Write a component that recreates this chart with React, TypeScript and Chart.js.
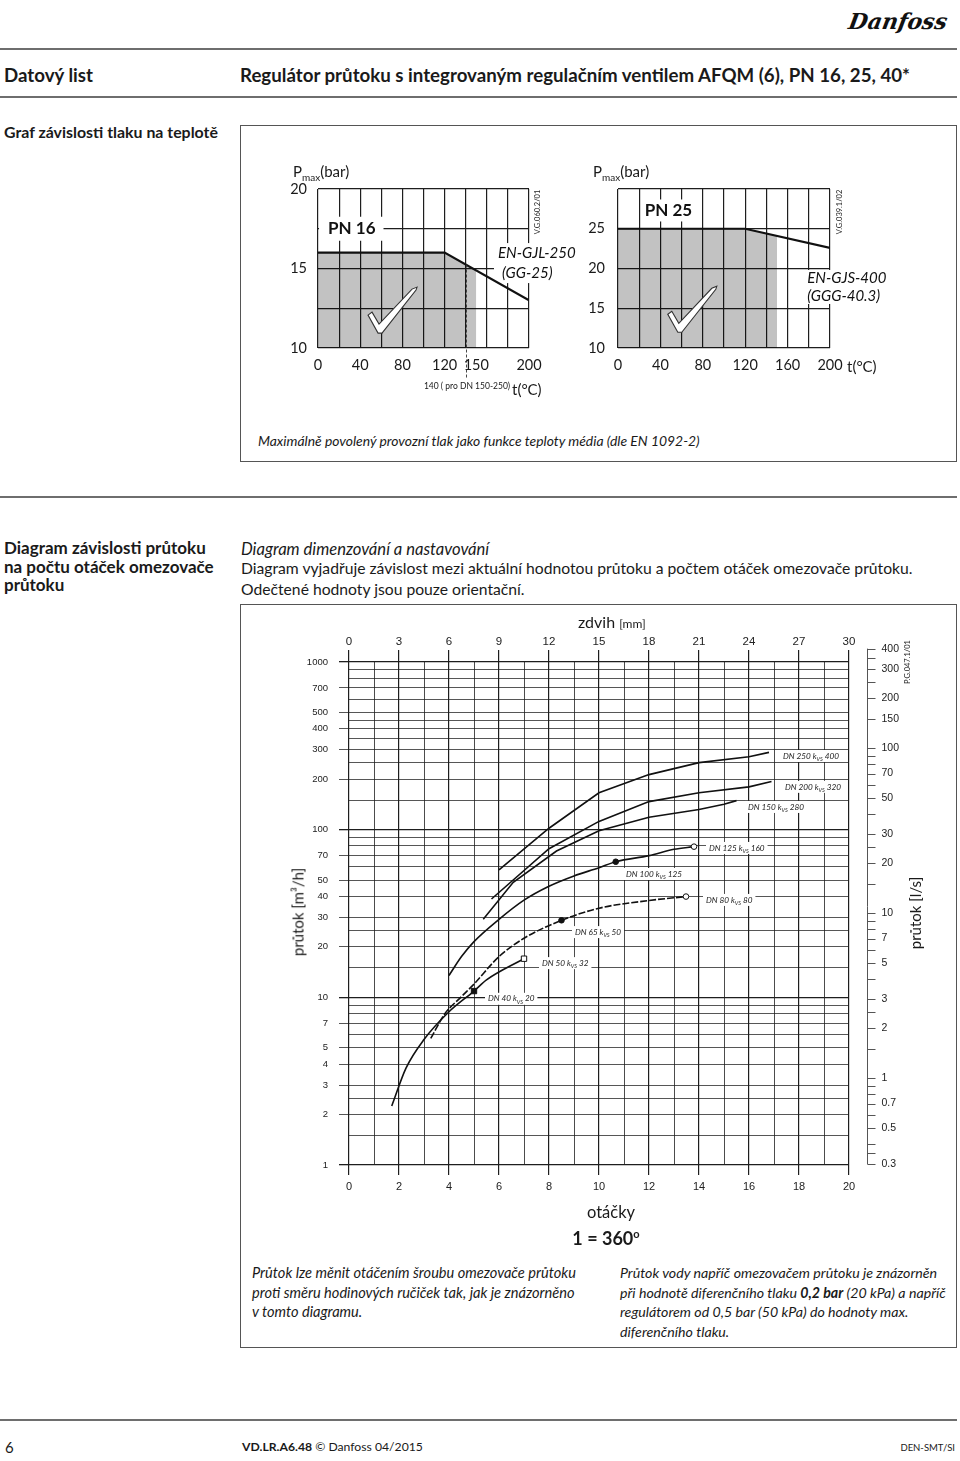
import React, { useEffect, useRef } from 'react';
import { Chart, registerables } from 'chart.js';
Chart.register(...registerables);

if (typeof document !== 'undefined') document.body.style.margin = '0';

const FONT = "Lato, 'Open Sans', sans-serif";
const NUM_FONT = "'Liberation Sans', Arial, sans-serif";

// ---------- PN 16 chart ----------
const pn16Temp = [0, 120, 200];
const pn16Pressure = [16, 16, 13];
const pn16AreaTemp = [0, 120, 150];
const pn16AreaPressure = [16, 16, 14.9];
const pn16TempGrid = [0, 20, 40, 60, 80, 100, 120, 140, 150, 160, 180, 200];
const pn16TempNoLine = [150];
const pn16TempLabels = [0, 40, 80, 120, 150, 200];
const pn16PressGrid = [10, 12.5, 15, 17.5, 20];
const pn16PressLabels = [10, 15, 20];
const pn16LimitTemp = 140;
const pn16LimitPressure = 15.25;

// ---------- PN 25 chart ----------
const pn25Temp = [0, 120, 200];
const pn25Pressure = [25, 25, 22.6];
const pn25AreaTemp = [0, 120, 150];
const pn25AreaPressure = [25, 25, 24.1];
const pn25TempGrid = [0, 20, 40, 60, 80, 100, 120, 140, 160, 180, 200];
const pn25TempLabels = [0, 40, 80, 120, 160, 200];
const pn25PressGrid = [10, 15, 20, 25, 30];
const pn25PressLabels = [10, 15, 20, 25];

// ---------- Main flow chart ----------
const turnsGrid = [0, 1, 2, 3, 4, 5, 6, 7, 8, 9, 10, 11, 12, 13, 14, 15, 16, 17, 18, 19, 20];
const turnsLabels = [0, 2, 4, 6, 8, 10, 12, 14, 16, 18, 20];
const liftTicks = [0, 3, 6, 9, 12, 15, 18, 21, 24, 27, 30];
const flowGrid = [1, 1.5, 2, 2.5, 3, 4, 5, 6, 7, 8, 9, 10, 15, 20, 25, 30, 40, 50, 60, 70, 80, 90,
  100, 150, 200, 250, 300, 350, 400, 450, 500, 600, 700, 800, 900, 1000];
const flowLabels = [1000, 700, 500, 400, 300, 200, 100, 70, 50, 40, 30, 20, 10, 7, 5, 4, 3, 2, 1];
const flowDecades = [1, 10, 100, 1000];
const flowLsTicks = [0.3, 0.35, 0.4, 0.5, 0.6, 0.7, 0.8, 0.9, 1, 1.5, 2, 2.5, 3, 4, 5, 6, 7, 8, 9, 10,
  15, 20, 25, 30, 40, 50, 60, 70, 80, 90, 100, 150, 200, 250, 300, 350, 400];
const flowLsLabels = [400, 300, 200, 150, 100, 70, 50, 30, 20, 10, 7, 5, 3, 2, 1, 0.7, 0.5, 0.3];
const flowLsMin = 0.297;
const flowLsMax = 332;

const dn250Turns = [6, 8, 10, 12, 14, 16, 16.8];
const dn250Flow = [57.5, 102, 166, 213, 251, 272, 289];
const dn200Turns = [5.7, 8, 10, 12, 14, 16, 16.9];
const dn200Flow = [38.6, 77, 112, 147, 166, 180, 194];
const dn150Turns = [5.37, 6.57, 8.3, 10, 12, 14, 15, 15.5];
const dn150Flow = [29.2, 48.5, 74.6, 98.6, 118.6, 132, 141.6, 149];
const dn125Turns = [4, 4.5, 5, 6, 7, 8, 9, 10, 10.67, 12, 13, 13.8];
const dn125Flow = [13.5, 17.5, 21.5, 29.2, 38, 46, 53, 59.3, 64.4, 70, 76.4, 79.2];
const dn80Turns = [3.27, 3.84, 4.5, 5, 6, 7, 8.5, 10, 12, 13.48];
const dn80Flow = [5.69, 8.0, 10.1, 12, 17.5, 22.5, 28.8, 34, 37.8, 39.9];
const dn50Turns = [1.71, 2.28, 3, 4, 5, 5.5, 7];
const dn50Flow = [2.25, 3.78, 5.6, 8.2, 10.9, 12.7, 17];

const dn100End = [10.67, 64.4];
const dn125End = [13.8, 79.2];
const dn65End = [8.5, 28.8];
const dn80End = [13.48, 39.9];
const dn40End = [5, 10.9];
const dn50End = [7, 17];

const curveLabels = [
  { dn: 'DN 250', kvs: '400', turns: 17.36, flow: 275 },
  { dn: 'DN 200', kvs: '320', turns: 17.44, flow: 180 },
  { dn: 'DN 150', kvs: '280', turns: 15.96, flow: 136.6 },
  { dn: 'DN 125', kvs: '160', turns: 14.4, flow: 77.8 },
  { dn: 'DN 100', kvs: '125', turns: 11.08, flow: 54.4 },
  { dn: 'DN 80', kvs: '80', turns: 14.28, flow: 38.1 },
  { dn: 'DN 65', kvs: '50', turns: 9.04, flow: 24.5 },
  { dn: 'DN 50', kvs: '32', turns: 7.72, flow: 16.0 },
  { dn: 'DN 40', kvs: '20', turns: 5.56, flow: 9.8 },
];

const pts = (xs: number[], ys: number[]) => xs.map((x, i) => ({ x, y: ys[i] }));
const GRID = '#1e1e1e';
const NONE = 'rgba(0,0,0,0)';

function drawCheck(ctx: CanvasRenderingContext2D, bx: number, by: number) {
  const p = [[-12, -17], [-8, -20], [-1, -8], [32, -43], [37, -45], [36, -42], [2, 1], [-2, 1]];
  ctx.save();
  ctx.beginPath();
  p.forEach(([x, y], i) => (i ? ctx.lineTo(bx + x, by + y) : ctx.moveTo(bx + x, by + y)));
  ctx.closePath();
  ctx.fillStyle = '#fff';
  ctx.fill();
  ctx.strokeStyle = '#333';
  ctx.lineWidth = 1.1;
  ctx.stroke();
  ctx.restore();
}

function pnConfig(o: any) {
  return {
    type: 'line',
    data: {
      datasets: [
        { data: pts(o.temp, o.press), borderColor: '#111', borderWidth: 2.2, pointRadius: 0, fill: false, tension: 0 },
        { data: pts(o.areaTemp, o.areaPress), borderWidth: 0, pointRadius: 0, fill: 'start', backgroundColor: 'rgba(0,0,0,0.24)', tension: 0 },
      ],
    },
    options: {
      responsive: false, animation: false, devicePixelRatio: 1,
      layout: { padding: { left: 0, right: o.padRight, top: 29, bottom: 0 } },
      plugins: { legend: { display: false }, tooltip: { enabled: false } },
      scales: {
        x: {
          type: 'linear', min: 0, max: 200,
          afterBuildTicks: (s: any) => { s.ticks = o.tempGrid.map((v: number) => ({ value: v })); },
          afterFit: (s: any) => { s.height = o.xHeight; },
          border: { display: false },
          grid: { drawTicks: false, lineWidth: 1.2, color: (c: any) => (o.tempNoLine.includes(c.tick?.value) ? NONE : GRID) },
          ticks: { autoSkip: false, maxRotation: 0, padding: 9, color: '#1a1a1a', font: { family: FONT, size: 14.5 },
            callback: (v: number) => (o.tempLabels.includes(v) ? String(v) : '') },
        },
        y: {
          type: 'linear', min: o.min, max: o.max,
          afterBuildTicks: (s: any) => { s.ticks = o.pressGrid.map((v: number) => ({ value: v })); },
          afterFit: (s: any) => { s.width = o.yWidth; },
          border: { display: false },
          grid: { drawTicks: false, lineWidth: 1.2, color: GRID },
          ticks: { autoSkip: false, padding: o.yPad, color: '#1a1a1a', font: { family: FONT, size: 14.5 },
            callback: (v: number) => (o.pressLabels.includes(v) ? String(v) : '') },
        },
      },
    },
    plugins: [
      {
        id: 'boxLabels',
        beforeDatasetsDraw(chart: any) {
          const { ctx } = chart; const xs = chart.scales.x; const ys = chart.scales.y;
          o.labels.forEach((l: any) => {
            ctx.save();
            ctx.font = l.font;
            const px = xs.getPixelForValue(l.t); const py = ys.getPixelForValue(l.p);
            const w = Math.max(...l.lines.map((s: string, i: number) => ctx.measureText(s).width + (l.indent?.[i] || 0)));
            ctx.fillStyle = '#fff';
            ctx.fillRect(px - l.padL, py - l.lh / 2 - l.padY, w + l.padL + l.padR, l.lh * l.lines.length + 2 * l.padY);
            ctx.fillStyle = '#111'; ctx.textBaseline = 'middle'; ctx.textAlign = 'left';
            l.lines.forEach((s: string, i: number) => ctx.fillText(s, px + (l.indent?.[i] || 0), py + i * l.lh));
            ctx.restore();
          });
        },
        afterDatasetsDraw(chart: any) {
          const { ctx, chartArea } = chart; const xs = chart.scales.x; const ys = chart.scales.y;
          drawCheck(ctx, xs.getPixelForValue(o.check[0]), ys.getPixelForValue(o.check[1]));
          if (o.limit) {
            const lx = Math.round(xs.getPixelForValue(o.limit[0])) + 0.5;
            ctx.save();
            ctx.strokeStyle = '#333'; ctx.lineWidth = 0.9; ctx.setLineDash([3, 2]);
            ctx.beginPath(); ctx.moveTo(lx, ys.getPixelForValue(o.limit[1])); ctx.lineTo(lx, chartArea.bottom + 30); ctx.stroke();
            ctx.restore();
          }
        },
      },
    ],
  };
}

const pn16Config = () => pnConfig({
  temp: pn16Temp, press: pn16Pressure, areaTemp: pn16AreaTemp, areaPress: pn16AreaPressure,
  tempGrid: pn16TempGrid, tempNoLine: pn16TempNoLine, tempLabels: pn16TempLabels,
  pressGrid: pn16PressGrid, pressLabels: pn16PressLabels, min: 10, max: 20,
  yWidth: 58, yPad: 11, padRight: 61, xHeight: 47,
  check: [58.8, 11.0], limit: [pn16LimitTemp, pn16LimitPressure],
  labels: [
    { lines: ['PN 16'], t: 9.5, p: 17.5, font: `bold 17px ${FONT}`, lh: 18, padL: 9, padR: 8, padY: 3 },
    { lines: ['EN-GJL-250', '(GG-25)'], indent: [0, 4], t: 170.6, p: 15.97, font: `italic 15px ${FONT}`, lh: 20, padL: 4, padR: 4, padY: 0 },
  ],
});

const pn25Config = () => pnConfig({
  temp: pn25Temp, press: pn25Pressure, areaTemp: pn25AreaTemp, areaPress: pn25AreaPressure,
  tempGrid: pn25TempGrid, tempNoLine: [], tempLabels: pn25TempLabels,
  pressGrid: pn25PressGrid, pressLabels: pn25PressLabels, min: 10, max: 30,
  yWidth: 48, yPad: 13, padRight: 70, xHeight: 47,
  check: [58.3, 12.1], limit: null,
  labels: [
    { lines: ['PN 25'], t: 25.2, p: 27.3, font: `bold 17px ${FONT}`, lh: 18, padL: 3, padR: 3, padY: 2 },
    { lines: ['EN-GJS-400', '(GGG-40.3)'], t: 178.5, p: 18.84, font: `italic 15px ${FONT}`, lh: 18.5, padL: 3, padR: 3, padY: -1.5 },
  ],
});

const curveLabelPlugin = {
  id: 'curveLabels',
  beforeDatasetsDraw(chart: any) {
    const { ctx } = chart; const xs = chart.scales.x; const ys = chart.scales.y;
    ctx.save();
    const big = `italic 8.2px ${FONT}`; const small = `italic 5.5px ${FONT}`;
    curveLabels.forEach((l) => {
      const px = xs.getPixelForValue(l.turns); const py = ys.getPixelForValue(l.flow);
      const a = `${l.dn} k`; const c = ` ${l.kvs}`;
      ctx.font = big; const wa = ctx.measureText(a).width; const wc = ctx.measureText(c).width;
      ctx.font = small; const wb = ctx.measureText('VS').width;
      ctx.fillStyle = '#fff';
      ctx.fillRect(px - 3, py - 6, wa + wb + wc + 6, 12);
      ctx.fillStyle = '#222'; ctx.textBaseline = 'middle'; ctx.textAlign = 'left';
      ctx.font = big; ctx.fillText(a, px, py);
      ctx.font = small; ctx.fillText('VS', px + wa, py + 3);
      ctx.font = big; ctx.fillText(c, px + wa + wb, py);
    });
    ctx.restore();
  },
};

const rightAxisPlugin = {
  id: 'rightAxis',
  afterDraw(chart: any) {
    const { ctx, chartArea } = chart; const s = chart.scales.y2;
    const x0 = Math.round(chartArea.right + 18) + 0.5;
    ctx.save();
    ctx.strokeStyle = '#555'; ctx.lineWidth = 1;
    const top = s.getPixelForValue(Math.max(...flowLsTicks));
    const bot = s.getPixelForValue(Math.min(...flowLsTicks));
    ctx.beginPath(); ctx.moveTo(x0, top); ctx.lineTo(x0, bot); ctx.stroke();
    flowLsTicks.forEach((v) => {
      const py = Math.round(s.getPixelForValue(v)) + 0.5;
      ctx.beginPath(); ctx.moveTo(x0, py); ctx.lineTo(x0 + 8, py); ctx.stroke();
    });
    ctx.fillStyle = '#222'; ctx.font = `10.5px ${NUM_FONT}`; ctx.textBaseline = 'middle'; ctx.textAlign = 'left';
    flowLsLabels.forEach((v) => ctx.fillText(String(v), x0 + 14, s.getPixelForValue(v)));
    ctx.restore();
  },
};

function mainConfig() {
  const line = (t: number[], f: number[], extra: any = {}) => ({
    data: pts(t, f), borderColor: '#111', borderWidth: 1.6, pointRadius: 0, fill: false, tension: 0, ...extra,
  });
  const marker = (p: number[], style: string, filled: boolean, r: number) => ({
    data: [{ x: p[0], y: p[1] }], showLine: false, pointStyle: style, pointRadius: r,
    pointBackgroundColor: filled ? '#111' : '#fff', pointBorderColor: '#111', pointBorderWidth: 1,
  });
  return {
    type: 'line',
    data: {
      datasets: [
        marker(dn100End, 'circle', true, 2.8),
        marker(dn125End, 'circle', false, 2.8),
        marker(dn65End, 'circle', true, 2.8),
        marker(dn80End, 'circle', false, 2.8),
        marker(dn40End, 'rect', true, 3.8),
        marker(dn50End, 'rect', false, 3.8),
        line(dn250Turns, dn250Flow),
        line(dn200Turns, dn200Flow),
        line(dn150Turns, dn150Flow),
        line(dn125Turns, dn125Flow, { cubicInterpolationMode: 'monotone' }),
        line(dn80Turns, dn80Flow, { cubicInterpolationMode: 'monotone', borderDash: [7, 2] }),
        line(dn50Turns, dn50Flow, { cubicInterpolationMode: 'monotone' }),
      ],
    },
    options: {
      responsive: false, animation: false, devicePixelRatio: 1,
      layout: { padding: { left: 0, right: 108, top: 0, bottom: 0 } },
      plugins: { legend: { display: false }, tooltip: { enabled: false } },
      scales: {
        x: {
          type: 'linear', position: 'bottom', min: 0, max: 20,
          afterBuildTicks: (s: any) => { s.ticks = turnsGrid.map((v) => ({ value: v })); },
          afterFit: (s: any) => { s.height = 59; },
          border: { display: false },
          grid: {
            color: GRID, tickLength: 10,
            lineWidth: (c: any) => (turnsLabels.includes(c.tick?.value) ? 1.2 : 0.8),
            tickColor: (c: any) => (turnsLabels.includes(c.tick?.value) ? GRID : NONE),
            tickWidth: 1.2,
          },
          ticks: { autoSkip: false, maxRotation: 0, padding: 5, color: '#222', font: { family: NUM_FONT, size: 11 },
            callback: (v: number) => (turnsLabels.includes(v) ? String(v) : '') },
        },
        x2: {
          type: 'linear', position: 'top', min: 0, max: 30,
          afterBuildTicks: (s: any) => { s.ticks = liftTicks.map((v) => ({ value: v })); },
          afterFit: (s: any) => { s.height = 58; },
          border: { display: false },
          grid: { drawOnChartArea: false, tickLength: 12, color: GRID, lineWidth: 1.2 },
          ticks: { autoSkip: false, maxRotation: 0, padding: 1, color: '#222', font: { family: NUM_FONT, size: 11.5 } },
        },
        y: {
          type: 'logarithmic', position: 'left', min: 1, max: 1000,
          afterBuildTicks: (s: any) => { s.ticks = flowGrid.map((v) => ({ value: v })); },
          afterFit: (s: any) => { s.width = 109; },
          border: { display: false },
          grid: {
            color: GRID, tickLength: 10,
            lineWidth: (c: any) => (flowDecades.includes(c.tick?.value) ? 1.3 : 0.75),
            tickColor: (c: any) => (flowLabels.includes(c.tick?.value) ? GRID : NONE),
          },
          ticks: { autoSkip: false, padding: 11, color: '#222', font: { family: NUM_FONT, size: 9.5 },
            callback: (v: number) => (flowLabels.includes(v) ? String(v) : '') },
        },
        y2: { type: 'logarithmic', position: 'right', display: false, min: flowLsMin, max: flowLsMax },
      },
    },
    plugins: [curveLabelPlugin, rightAxisPlugin],
  };
}

function ChartCanvas({ left, top, width, height, make }: any) {
  const ref = useRef<HTMLCanvasElement>(null);
  useEffect(() => {
    const chart = new Chart(ref.current as any, make());
    return () => chart.destroy();
  }, []);
  return <canvas ref={ref} width={width} height={height} style={{ position: 'absolute', left, top, width, height }} />;
}

function T({ x, y, size = 15, bold = false, italic = false, align = 'left', color = '#1a1a1a', rotate = false, children, family }: any) {
  const tx = align === 'center' ? '-50%' : align === 'right' ? '-100%' : '0';
  return (
    <div style={{
      position: 'absolute', left: x, top: y, whiteSpace: 'nowrap', lineHeight: 1,
      fontSize: size, fontWeight: bold ? 700 : 400, fontStyle: italic ? 'italic' : 'normal', color,
      fontFamily: family || FONT,
      transform: rotate ? 'translate(-50%,-50%) rotate(-90deg)' : `translate(${tx},-50%)`,
    }}>{children}</div>
  );
}

const Rule = ({ y }: any) => <div style={{ position: 'absolute', left: 0, top: y - 1, width: 957, height: 2, background: '#6e6e6e' }} />;
const Box = ({ x, y, w, h }: any) => <div style={{ position: 'absolute', left: x, top: y, width: w, height: h, border: '1.5px solid #555', boxSizing: 'border-box' }} />;

export default function App() {
  return (
    <div style={{ position: 'relative', width: 960, height: 1461, overflow: 'hidden', background: '#fff', fontFamily: FONT, color: '#1a1a1a' }}>
      <div style={{ position: 'absolute', left: 849, top: 8, fontFamily: "'DejaVu Serif', serif", fontStyle: 'italic', fontWeight: 700, fontSize: 22, transform: 'skewX(-10deg)', color: '#111' }}>Danfoss</div>
      <Rule y={49} />
      <T x={4} y={75} size={18.7} bold>Datový list</T>
      <T x={240} y={75} size={18.7} bold>Regulátor průtoku s integrovaným regulačním ventilem AFQM (6), PN 16, 25, 40*</T>
      <Rule y={97} />
      <T x={4} y={132} size={15.9} bold>Graf závislosti tlaku na teplotě</T>

      <Box x={240} y={125} w={717} h={337} />
      <ChartCanvas left={260} top={160} width={330} height={235} make={pn16Config} />
      <ChartCanvas left={570} top={160} width={330} height={235} make={pn25Config} />
      <T x={293} y={173} size={15}>P<sub style={{ fontSize: 10 }}>max</sub>(bar)</T>
      <T x={593} y={173} size={15}>P<sub style={{ fontSize: 10 }}>max</sub>(bar)</T>
      <T x={467} y={386} size={8.5} align="center">140 ( pro DN 150-250)</T>
      <T x={512} y={389} size={15}>t(°C)</T>
      <T x={847} y={366} size={15}>t(°C)</T>
      <T x={538} y={212} size={7.5} rotate>V.G.060.2/01</T>
      <T x={840} y={212} size={7.5} rotate>V.G.039.1/02</T>
      <T x={258} y={441} size={13.9} italic>Maximálně povolený provozní tlak jako funkce teploty média (dle EN 1092-2)</T>

      <Rule y={497} />
      <div style={{ position: 'absolute', left: 4, top: 539, fontSize: 17, fontWeight: 700, lineHeight: '18.5px' }}>
        Diagram závislosti průtoku<br />na počtu otáček omezovače<br />průtoku
      </div>
      <T x={241} y={549} size={16.6} italic>Diagram dimenzování a nastavování</T>
      <T x={241} y={569} size={15.7}>Diagram vyjadřuje závislost mezi aktuální hodnotou průtoku a počtem otáček omezovače průtoku.</T>
      <T x={241} y={590} size={15.7}>Odečtené hodnoty jsou pouze orientační.</T>

      <Box x={240} y={604} w={717} h={744} />
      <ChartCanvas left={240} top={604} width={717} height={620} make={mainConfig} />
      <T x={578} y={622} size={16}>zdvih <span style={{ fontSize: 12 }}>[mm]</span></T>
      <T x={298} y={912} size={15} rotate>průtok [m³/h]</T>
      <T x={915} y={913} size={15} rotate>průtok [l/s]</T>
      <T x={908} y={662} size={7.5} rotate>P.G.047.1/01</T>
      <T x={611} y={1212} size={16.5} align="center">otáčky</T>
      <T x={606} y={1237} size={18} bold align="center">1 = 360<sup style={{ fontSize: 11 }}>o</sup></T>
      <div style={{ position: 'absolute', left: 252, top: 1263, fontSize: 14.6, fontStyle: 'italic', lineHeight: '19.5px', whiteSpace: 'nowrap' }}>
        Průtok lze měnit otáčením šroubu omezovače průtoku<br />proti směru hodinových ručiček tak, jak je znázorněno<br />v tomto diagramu.
      </div>
      <div style={{ position: 'absolute', left: 620, top: 1263, fontSize: 14.2, fontStyle: 'italic', lineHeight: '19.5px', whiteSpace: 'nowrap' }}>
        Průtok vody napříč omezovačem průtoku je znázorněn<br />při hodnotě diferenčního tlaku <b>0,2 bar</b> (20 kPa) a napříč<br />regulátorem od 0,5 bar (50 kPa) do hodnoty max.<br />diferenčního tlaku.
      </div>

      <Rule y={1420} />
      <T x={5} y={1447} size={15}>6</T>
      <T x={242} y={1447} size={12.2}><b>VD.LR.A6.48</b> © Danfoss 04/2015</T>
      <T x={955} y={1448} size={9.5} align="right">DEN-SMT/SI</T>
    </div>
  );
}
